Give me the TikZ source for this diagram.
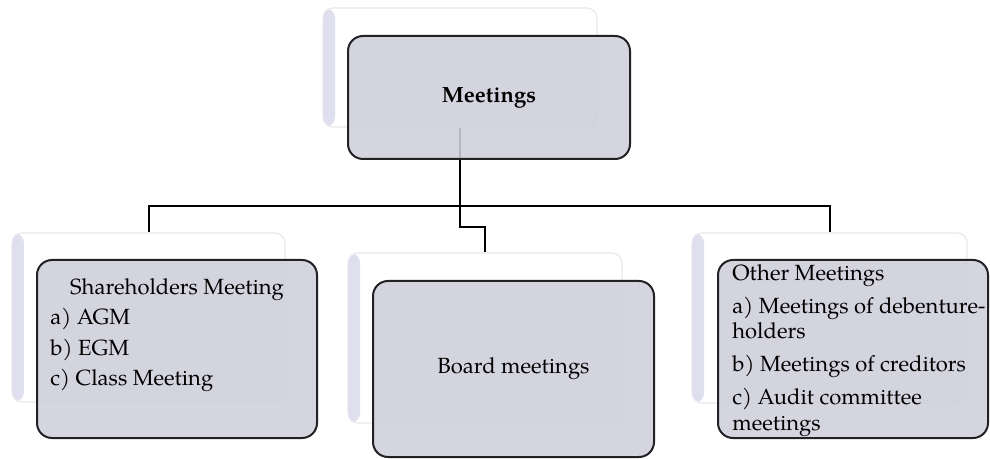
\documentclass[tikz,border=0pt]{standalone}
\usepackage{fontspec}
\setmainfont{TeX Gyre Pagella}
\definecolor{boxfill}{RGB}{207,207,219}
\definecolor{boxline}{RGB}{34,34,38}
\definecolor{backline}{RGB}{232,232,238}
\definecolor{bevel}{RGB}{222,222,238}

\begin{document}
\begin{tikzpicture}[x=0.5pt,y=-0.5pt]
\useasboundingbox (0,0) rectangle (990,459);
\tikzstyle{back} = [draw=backline, fill=white, rounded corners=5pt, line width=0.6pt, inner sep=0pt,
  path picture={\shade[left color=bevel, right color=white] (path picture bounding box.north west) rectangle ([xshift=6pt]path picture bounding box.south west);}];
\tikzstyle{front} = [draw=boxline, fill=boxfill, fill opacity=0.88, text opacity=1, rounded corners=7.5pt, line width=1pt, inner sep=0pt, font=\fontsize{11}{12.75}\selectfont];
\tikzstyle{link} = [line width=1pt];
\tikzstyle{txt} = [inner sep=0pt, font=\fontsize{11}{12.75}\selectfont];

% back boxes
\node[back, minimum width=137pt, minimum height=59.5pt] (topback) at (460,67.5) {};
\node[back, minimum width=136.5pt, minimum height=84.5pt] (leftback) at (148.5,317.5) {};
\node[back, minimum width=137pt, minimum height=85pt] (midback) at (485,338) {};
\node[back, minimum width=137.5pt, minimum height=85pt] (rightback) at (829.5,318) {};

% connectors
\coordinate (bus) at (460,206);
\draw[link] (topback.south) -- (bus) -| (leftback.north);
\draw[link] (bus) -| (rightback.north);
\draw[link] (bus) -- (460,227) -| (midback.north);

% front boxes
\node[front, minimum width=141pt, minimum height=61.5pt] (meetings) at (489,97.5) {\textbf{Meetings}};
\node[front, minimum width=140pt, minimum height=89pt] (share) at (177,349) {};
\node[front, minimum width=140.5pt, minimum height=88pt] (board) at (513.5,369) {Board meetings};
\node[front, minimum width=135pt, minimum height=89pt] (other) at (853,349) {};

% texts (base = last line)
\node[txt, anchor=base] (sharehead) at (177,295) {Shareholders Meeting};
\node[txt, anchor=base west, align=left] (sharelist) at (50,386) {a) AGM\\[2.5pt]b) EGM\\[2.5pt]c) Class Meeting};
\node[txt, anchor=base west, align=left] (otherlist) at (732,430) {Other Meetings\\[3.75pt]a) Meetings of debenture-\\holders\\[3.75pt]b) Meetings of creditors\\[3.75pt]c) Audit committee\\meetings};
\end{tikzpicture}
\end{document}
